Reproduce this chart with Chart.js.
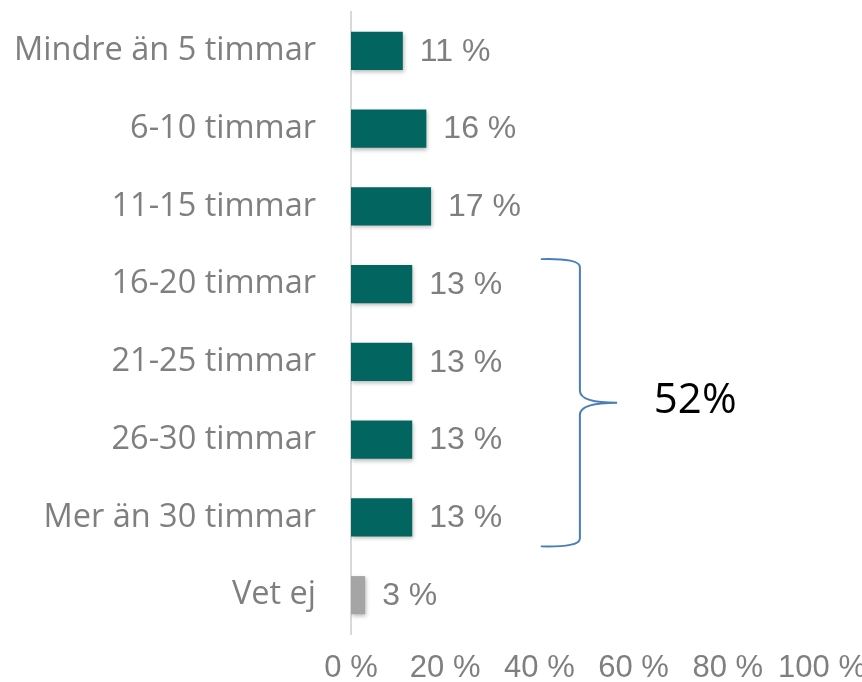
<!DOCTYPE html>
<html>
<head>
<meta charset="utf-8">
<script src="https://cdn.jsdelivr.net/npm/chart.js@4"></script>
<style>
html,body{margin:0;padding:0;background:#fff;}
#wrap{width:862px;height:682px;}
</style>
</head>
<body>
<div id="wrap"><canvas id="c" width="862" height="682"></canvas></div>
<script>
const categories = ["Mindre än 5 timmar","6-10 timmar","11-15 timmar","16-20 timmar","21-25 timmar","26-30 timmar","Mer än 30 timmar","Vet ej"];
const values = [11,16,17,13,13,13,13,3];
const barColors = ["#02655F","#02655F","#02655F","#02655F","#02655F","#02655F","#02655F","#A5A5A5"];
const xTicks = [0,20,40,60,80,100];
const braceFrom = 3, braceTo = 6;
const braceLabel = "52%";

const shadowPlugin = {
  id:'shadow',
  beforeDatasetsDraw(chart){
    const ctx = chart.ctx; ctx.save();
    ctx.shadowColor='rgba(0,0,0,0.28)'; ctx.shadowBlur=4; ctx.shadowOffsetX=1; ctx.shadowOffsetY=2;
  },
  afterDatasetsDraw(chart){ chart.ctx.restore(); }
};

const labelPlugin = {
  id:'labels',
  afterDraw(chart){
    const ctx = chart.ctx;
    const meta = chart.getDatasetMeta(0);
    ctx.save();
    ctx.font = '32px "Liberation Sans", Arial, sans-serif';
    ctx.fillStyle = '#7F7F7F';
    ctx.textAlign='left'; ctx.textBaseline='middle';
    meta.data.forEach((bar,i)=>{
      ctx.fillText(values[i]+' %', bar.x+17, bar.y+1);
    });
    // brace
    const ys = chart.scales.y, xs = chart.scales.x;
    const top = ys.getPixelForValue(braceFrom) - 25;
    const bot = ys.getPixelForValue(braceTo) + 29;
    const mid = (top+bot)/2;
    const xl = xs.getPixelForValue(40.3), xv = xs.getPixelForValue(48.6), xt = xs.getPixelForValue(56.5);
    ctx.strokeStyle='#4A7EBB'; ctx.lineWidth=2;
    ctx.beginPath();
    ctx.moveTo(xl, top);
    ctx.quadraticCurveTo(xv, top-1, xv, top+8);
    ctx.lineTo(xv, mid-12);
    ctx.quadraticCurveTo(xv, mid, xt, mid);
    ctx.quadraticCurveTo(xv, mid, xv, mid+12);
    ctx.lineTo(xv, bot-8);
    ctx.quadraticCurveTo(xv, bot+1, xl, bot);
    ctx.stroke();
    ctx.font = '42px "Open Sans", sans-serif';
    ctx.fillStyle='#000';
    ctx.textBaseline='alphabetic';
    ctx.fillText(braceLabel, xs.getPixelForValue(64.3), mid+10);
    ctx.restore();
  }
};

new Chart(document.getElementById('c'), {
  type:'bar',
  data:{ labels:categories, datasets:[{ data:values, backgroundColor:barColors, borderWidth:0, barPercentage:0.49, categoryPercentage:1.0 }]},
  options:{
    indexAxis:'y', responsive:false, animation:false,
    layout:{ padding:{ top:12, right:40, left:0, bottom:0 } },
    plugins:{ legend:{display:false}, tooltip:{enabled:false} },
    scales:{
      x:{ min:0, max:100, afterBuildTicks(s){ s.ticks = xTicks.map(v=>({value:v})); },
          grid:{display:false}, border:{display:false},
          ticks:{ padding:8, maxRotation:0, minRotation:0, autoSkip:false, color:'#7F7F7F', font:{family:'"Liberation Sans", Arial, sans-serif', size:31}, callback:v=>v+' %' },
          afterFit(s){ s.height = 48; s.paddingLeft=0; s.paddingRight=0; s.paddingTop=0; s.paddingBottom=0; } },
      y:{ grid:{display:false, drawTicks:false}, border:{display:true, color:'#D9D9D9', width:2},
          ticks:{ padding:35, color:'#7F7F7F', font:{family:'"Open Sans", sans-serif', size:32.5} },
          afterFit(s){ s.width = 351; s.paddingLeft=0; s.paddingRight=0; s.paddingTop=0; s.paddingBottom=0; } }
    }
  },
  plugins:[shadowPlugin, labelPlugin]
});
</script>
</body>
</html>
